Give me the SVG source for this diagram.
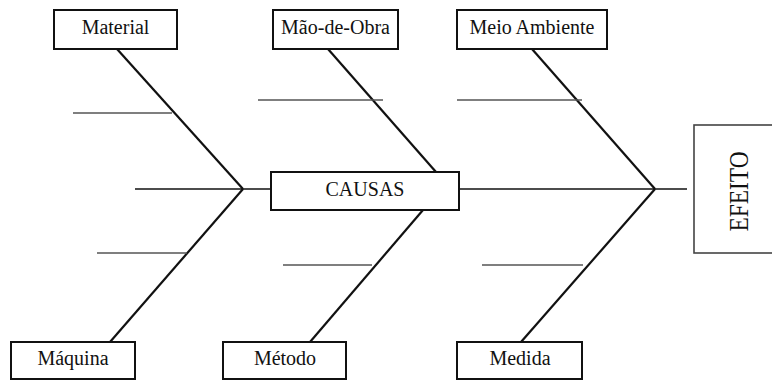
<svg xmlns="http://www.w3.org/2000/svg" width="772" height="380" viewBox="0 0 772 380">
<style>
.box{fill:#fff;stroke:#111;stroke-width:2}
.efbox{fill:#fff;stroke:#444;stroke-width:1.6}
.lbl{font-family:'Liberation Serif','Times New Roman',serif;font-size:20px;fill:#111;text-anchor:middle}
.bone{stroke:#111;stroke-width:2.2;fill:none}
.spine{stroke:#111;stroke-width:1.5;fill:none}
.rib{stroke:#555;stroke-width:1.6;fill:none}
</style>
<rect width="772" height="380" fill="#fff"/>
<g id="connectors">
<line class="spine" x1="135" y1="189" x2="271" y2="189"/>
<line class="spine" x1="459" y1="189" x2="687" y2="189"/>
<line class="bone" x1="117" y1="49" x2="243" y2="189"/>
<line class="bone" x1="243" y1="189" x2="110" y2="342"/>
<line class="bone" x1="328" y1="49" x2="436" y2="172"/>
<line class="bone" x1="423" y1="210" x2="310" y2="342"/>
<line class="bone" x1="532" y1="49" x2="655" y2="189"/>
<line class="bone" x1="655" y1="189" x2="521" y2="342"/>
<line class="rib" x1="73" y1="113" x2="172" y2="113"/>
<line class="rib" x1="97" y1="253" x2="187" y2="253"/>
<line class="rib" x1="258" y1="100" x2="383" y2="100"/>
<line class="rib" x1="283" y1="265" x2="372" y2="265"/>
<line class="rib" x1="457" y1="100" x2="582" y2="100"/>
<line class="rib" x1="482" y1="265" x2="583" y2="265"/>
</g>
<g id="material"><rect class="box" x="54" y="10" width="123" height="39"/><text class="lbl" x="115.5" y="34">Material</text></g>
<g id="mao-de-obra"><rect class="box" x="273" y="10" width="125" height="39"/><text class="lbl" x="335.5" y="34">Mão-de-Obra</text></g>
<g id="meio-ambiente"><rect class="box" x="457" y="10" width="150" height="39"/><text class="lbl" x="532" y="34">Meio Ambiente</text></g>
<g id="causas"><rect class="box" x="271" y="172" width="188" height="38"/><text class="lbl" x="365" y="196">CAUSAS</text></g>
<g id="maquina"><rect class="box" x="11" y="342" width="124" height="37"/><text class="lbl" x="73" y="365">Máquina</text></g>
<g id="metodo"><rect class="box" x="223" y="342" width="123" height="37"/><text class="lbl" x="285" y="365">Método</text></g>
<g id="medida"><rect class="box" x="457" y="342" width="125" height="37"/><text class="lbl" x="520" y="365">Medida</text></g>
<g id="efeito"><rect class="efbox" x="694" y="125" width="90" height="128"/><text class="lbl" transform="translate(748,191.5) rotate(-90)" x="0" y="0" textLength="80" lengthAdjust="spacingAndGlyphs" style="font-size:28px">EFEITO</text></g>
</svg>
